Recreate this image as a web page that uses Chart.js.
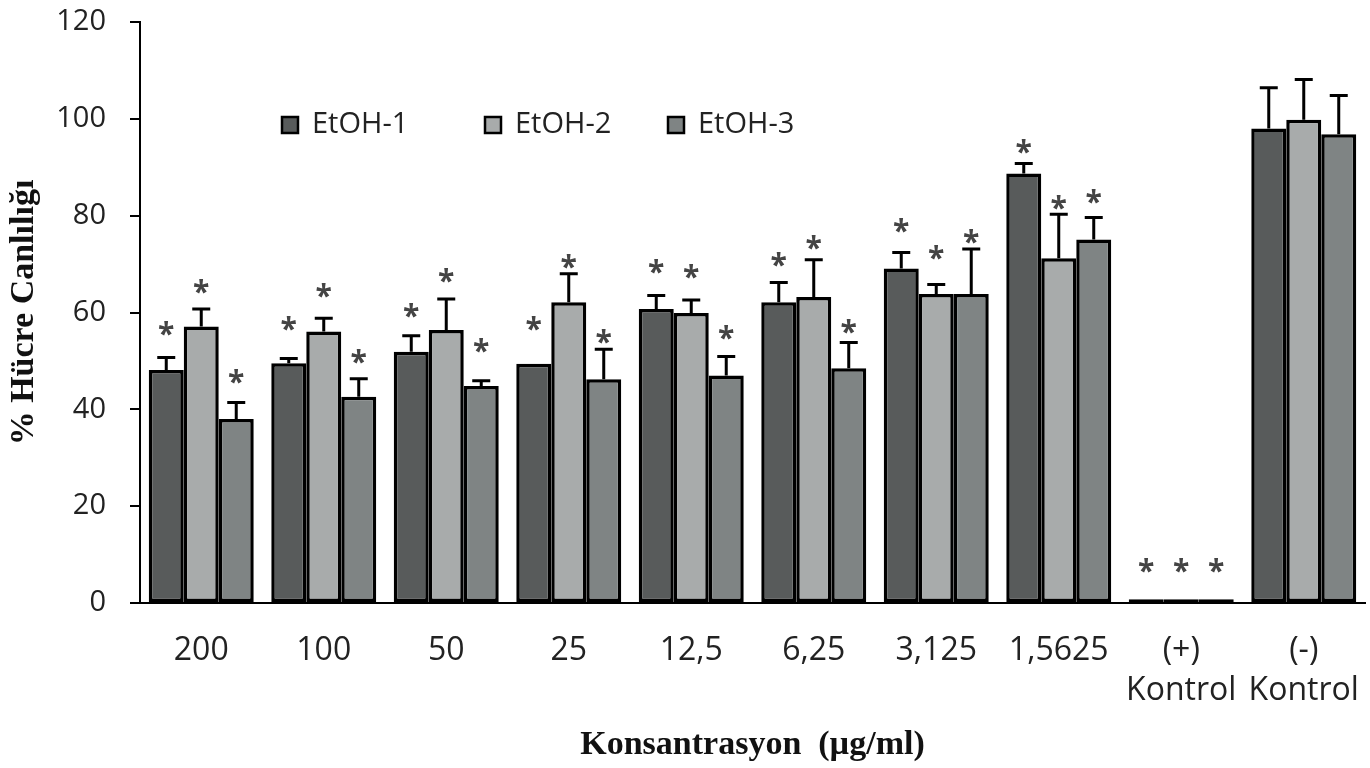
<!DOCTYPE html>
<html>
<head>
<meta charset="utf-8">
<script src="https://cdn.jsdelivr.net/npm/chart.js@4/dist/chart.umd.min.js"></script>
<style>
  body { margin: 0; background: #fff; }
</style>
</head>
<body>
<canvas id="viabilityChart" width="1370" height="768"></canvas>
<script>
// Data
const categories = ["200", "100", "50", "25", "12,5", "6,25", "3,125", "1,5625", ["(+)", "Kontrol"], ["(-)", "Kontrol"]];
const seriesNames = ["EtOH-1", "EtOH-2", "EtOH-3"];

const etoh1 = [48.1, 49.5, 51.9, 49.4, 60.7, 62.1, 69.1, 88.7, 0.8, 98.0];
const etoh2 = [57.1, 56.1, 56.4, 62.1, 59.9, 63.2, 63.8, 71.2, 0.8, 99.8];
const etoh3 = [38.0, 42.6, 44.8, 46.2, 47.0, 48.5, 63.8, 75.1, 0.8, 96.8];

// upper error (SD)
const etoh1Sd = [2.6, 1.0, 3.3, 0, 2.8, 4.1, 3.3, 2.1, 0, 8.4];
const etoh2Sd = [3.6, 2.7, 6.4, 5.9, 2.7, 7.7, 2.0, 9.1, 0, 8.3];
const etoh3Sd = [3.4, 3.7, 1.1, 6.2, 3.9, 5.3, 9.3, 4.5, 0, 8.0];

// where the significance asterisks sit (axis units), null = none
const etoh1Star = [57.1, 58.1, 60.7, 58.1, 69.8, 71.2, 78.2, 94.6, 8, null];
const etoh2Star = [65.7, 64.8, 67.9, 70.9, 68.7, 74.8, 72.7, 83.0, 8, null];
const etoh3Star = [47.0, 51.2, 53.4, 55.3, 56.1, 57.4, 76.0, 84.3, 8, null];

const yTicks = [0, 20, 40, 60, 80, 100, 120];

const colors = ["#585b5b", "#a8abab", "#7f8484"];

Chart.defaults.font.family = "'Open Sans', sans-serif";
Chart.defaults.color = "#222";

// error bars + asterisks
const errorStars = {
  id: "errorStars",
  afterDatasetsDraw(chart) {
    const ctx = chart.ctx;
    const y = chart.scales.y;
    chart.data.datasets.forEach((ds, i) => {
      const meta = chart.getDatasetMeta(i);
      meta.data.forEach((bar, j) => {
        ctx.save();
        if (ds.sd[j] > 0) {
          const yTop = y.getPixelForValue(ds.data[j] + ds.sd[j]);
          ctx.strokeStyle = "#000";
          ctx.lineWidth = 3;
          ctx.beginPath();
          ctx.moveTo(bar.x, bar.y);
          ctx.lineTo(bar.x, yTop);
          ctx.moveTo(bar.x - 9, yTop);
          ctx.lineTo(bar.x + 9, yTop);
          ctx.stroke();
        }
        if (ds.star[j] != null) {
          ctx.fillStyle = "#444";
          ctx.font = "bold 30px 'Open Sans'";
          ctx.textAlign = "center";
          ctx.textBaseline = "alphabetic";
          ctx.fillText("*", bar.x, y.getPixelForValue(ds.star[j]) + 17);
        }
        ctx.restore();
      });
    });
  }
};

// legend inside the plot
const boxLegend = {
  id: "boxLegend",
  afterDraw(chart) {
    const ctx = chart.ctx;
    const xs = [282, 485, 668];
    const yc = 125;
    chart.data.datasets.forEach((ds, i) => {
      ctx.save();
      ctx.fillStyle = ds.backgroundColor;
      ctx.strokeStyle = "#000";
      ctx.lineWidth = 2.5;
      ctx.fillRect(xs[i], yc - 8, 16, 16);
      ctx.strokeRect(xs[i], yc - 8, 16, 16);
      ctx.fillStyle = "#222";
      ctx.font = "29px 'Open Sans'";
      ctx.textBaseline = "middle";
      ctx.fillText(ds.label, xs[i] + 30, yc);
      ctx.restore();
    });
  }
};

const ctx = document.getElementById("viabilityChart").getContext("2d");

const chart = new Chart(ctx, {
  type: "bar",
  data: {
    labels: categories,
    datasets: [
      { label: seriesNames[0], data: etoh1, sd: etoh1Sd, star: etoh1Star, backgroundColor: colors[0] },
      { label: seriesNames[1], data: etoh2, sd: etoh2Sd, star: etoh2Star, backgroundColor: colors[1] },
      { label: seriesNames[2], data: etoh3, sd: etoh3Sd, star: etoh3Star, backgroundColor: colors[2] },
    ].map((d) => Object.assign(d, {
      borderColor: "#000",
      borderWidth: 3.5,
      borderSkipped: false,
      categoryPercentage: 0.857,
      barPercentage: 1.0,
    })),
  },
  options: {
    responsive: false,
    animation: false,
    layout: { padding: { left: 0, right: 5, top: 22, bottom: 0 } },
    plugins: {
      legend: { display: false },
      tooltip: { enabled: false },
    },
    scales: {
      x: {
        grid: { display: false, drawTicks: false },
        border: { display: true, color: "#000", width: 2 },
        ticks: { font: { size: 32, lineHeight: 1.25 }, padding: 28, maxRotation: 0, autoSkip: false },
        title: {
          display: true,
          text: "Konsantrasyon  (µg/ml)",
          font: { family: "'Liberation Serif', serif", size: 34, weight: "bold" },
          color: "#111",
          padding: { top: 0, bottom: 2 },
        },
        afterFit: (s) => { s.height = 165; s.paddingLeft = 0; s.paddingRight = 0; },
      },
      y: {
        min: 0,
        max: 120,
        afterBuildTicks: (s) => { s.ticks = yTicks.map((v) => ({ value: v })); },
        grid: { drawOnChartArea: false, drawTicks: true, tickLength: 10, color: "#000", lineWidth: 2 },
        border: { display: true, color: "#000", width: 2 },
        ticks: { font: { size: 29 }, padding: 24 },
        title: {
          display: true,
          text: "% Hücre Canlılığı",
          font: { family: "'Liberation Serif', serif", size: 34, weight: "bold" },
          color: "#111",
          padding: { top: 4, bottom: 0 },
        },
        afterFit: (s) => { s.width = 140; s.paddingTop = 0; s.paddingBottom = 0; },
      },
    },
  },
  plugins: [errorStars, boxLegend],
});
</script>
</body>
</html>
